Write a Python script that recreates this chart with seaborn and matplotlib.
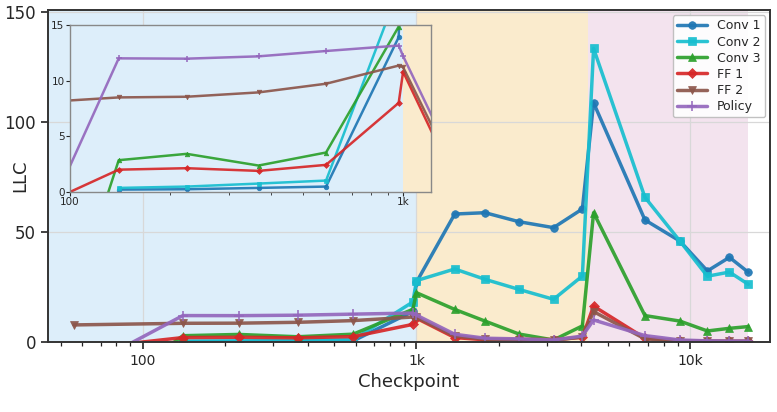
import numpy as np
import pandas as pd
import matplotlib
matplotlib.use("Agg")
import matplotlib.pyplot as plt
from matplotlib.ticker import FixedLocator, FuncFormatter, LogLocator, NullFormatter
import seaborn as sns

# ---- data -----------------------------------------------------------
checkpoints = [56, 140, 224, 368, 587, 970, 1000, 1380, 1780, 2370, 3170,
               4040, 4440, 6840, 9180, 11570, 13930, 16330]
conv1 = [np.nan, 0.21, 0.24, 0.36, 0.48, 13.9, 27.2, 58.2, 58.8, 54.7, 52.0,
         60.5, 108.8, 55.5, 45.9, 32.3, 38.5, 31.7]
conv2 = [np.nan, 0.36, 0.48, 0.75, 1.02, 18.2, 27.9, 33.2, 28.5, 23.9, 19.4,
         30.0, 133.5, 65.8, 45.9, 29.9, 31.8, 26.2]
conv3 = [-33.7, 2.85, 3.42, 2.37, 3.54, 14.85, 22.4, 14.8, 9.5, 3.6, 0.9,
         7.3, 58.8, 12.0, 9.5, 5.0, 6.2, 7.0]
ff1 = [-3.45, 2.0, 2.13, 1.89, 2.43, 8.0, 10.8, 2.0, 1.0, 1.2, 1.1,
       2.1, 16.3, 1.7, 0.6, 0.4, 0.3, 0.3]
ff2 = [7.75, 8.49, 8.55, 8.94, 9.72, 11.35, 11.2, 2.7, 1.3, 1.0, 0.7,
       2.3, 13.8, 1.4, 0.6, 0.4, 0.3, 0.3]
policy = [-14.3, 12.0, 11.97, 12.18, 12.66, 13.15, 12.2, 3.5, 1.7, 1.4, 0.9,
          2.7, 10.0, 2.9, 0.9, 0.5, 0.4, 0.4]

series_names = ["Conv 1", "Conv 2", "Conv 3", "FF 1", "FF 2", "Policy"]
series_values = [conv1, conv2, conv3, ff1, ff2, policy]

phase_bounds = [1000, 4230, 16330]

x_ticks = [100, 1000, 10000]
y_ticks = [0, 50, 100, 150]
inset_y_ticks = [0, 5, 10, 15]

# ---- styling ---------------------------------------------------------
colors = {"Conv 1": "#1f77b4", "Conv 2": "#17becf", "Conv 3": "#2ca02c",
          "FF 1": "#d62728", "FF 2": "#8c564b", "Policy": "#9467bd"}
markers = {"Conv 1": "o", "Conv 2": "s", "Conv 3": "^",
           "FF 1": "D", "FF 2": "v", "Policy": "+"}
msize_main = {"Conv 1": 5.5, "Conv 2": 5.5, "Conv 3": 5.5, "FF 1": 5, "FF 2": 5.5, "Policy": 7}
phase_colors = ["#ddeefa", "#faebcd", "#f3e3ee"]

frames = {}
for name, vals in zip(series_names, series_values):
    d = pd.DataFrame({"Checkpoint": checkpoints, "LLC": vals})
    frames[name] = d.dropna()

sns.set_theme(style="ticks")
plt.rcParams["font.family"] = ["DejaVu Sans"]

fig = plt.figure(figsize=(7.77, 4.12), dpi=100)
ax = fig.add_axes([0.0618, 0.170, 0.9292, 0.8057])


def kfmt(v, pos):
    if v >= 1000:
        return f"{int(v / 1000)}k"
    return f"{int(v)}"


def shade(a, left):
    edges = [left] + phase_bounds
    for i, col in enumerate(phase_colors):
        a.axvspan(edges[i], edges[i + 1], color=col, lw=0, zorder=0)


def draw(a, lw, scale, label):
    for name in series_names:
        c = colors[name]
        sns.lineplot(data=frames[name], x="Checkpoint", y="LLC", ax=a,
                     color=c, marker=markers[name],
                     markersize=msize_main[name] * scale,
                     markeredgecolor=c, markerfacecolor=c,
                     markeredgewidth=1.2 if markers[name] == "+" else 0.5,
                     linewidth=lw, alpha=0.92, errorbar=None,
                     label=name if label else None, legend=label)


shade(ax, 1)
draw(ax, 2.5, 1.0, True)
ax.set_xscale("log")
ax.set_xlim(45, 19600)
ax.set_ylim(0, 151)
ax.xaxis.set_major_locator(FixedLocator(x_ticks))
ax.xaxis.set_major_formatter(FuncFormatter(kfmt))
ax.xaxis.set_minor_locator(LogLocator(base=10, subs=np.arange(2, 10)))
ax.xaxis.set_minor_formatter(NullFormatter())
ax.set_yticks(y_ticks)
ax.grid(True, which="major", color="#d8d8d8", lw=0.9)
ax.set_axisbelow(True)
ax.tick_params(axis="x", which="major", labelsize=10, length=5, width=1.2, color="#222")
ax.tick_params(axis="x", which="minor", length=3, width=0.9, color="#222")
ax.tick_params(axis="y", which="major", labelsize=12, length=5, width=1.2, color="#222")
for s in ax.spines.values():
    s.set_visible(True)
    s.set_color("#333333")
    s.set_linewidth(1.4)
ax.set_xlabel("Checkpoint", fontsize=13)
ax.set_ylabel("LLC", fontsize=13)
ax.yaxis.set_label_coords(-0.026, 0.5)

leg = ax.legend(loc="upper right", fontsize=9, frameon=True, fancybox=True,
                framealpha=0.9, borderpad=0.35, labelspacing=0.25,
                handlelength=2.4, borderaxespad=0.4)
leg.get_frame().set_edgecolor("#bbbbbb")

# ---- inset -----------------------------------------------------------
axi = ax.inset_axes([0.0305, 0.452, 0.50, 0.503])
shade(axi, 1)
draw(axi, 1.8, 0.6, False)
axi.set_xscale("log")
axi.set_xlim(100, 1213)
axi.set_ylim(0, 15)
axi.xaxis.set_major_locator(FixedLocator([100, 1000]))
axi.xaxis.set_major_formatter(FuncFormatter(kfmt))
axi.xaxis.set_minor_locator(LogLocator(base=10, subs=np.arange(2, 10)))
axi.xaxis.set_minor_formatter(NullFormatter())
axi.set_yticks(inset_y_ticks)
axi.set_xlabel("")
axi.set_ylabel("")
axi.grid(False)
axi.tick_params(axis="both", which="major", labelsize=7.5, length=3, width=0.8, pad=1)
axi.tick_params(axis="x", which="minor", length=2, width=0.6)
for s in axi.spines.values():
    s.set_visible(True)
    s.set_color("#888888")
    s.set_linewidth(1.0)

fig.savefig("out.png", dpi=100)
